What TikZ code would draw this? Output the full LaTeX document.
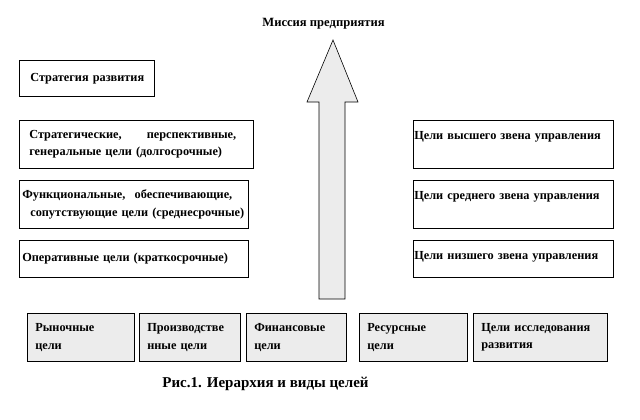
\documentclass[tikz,border=0pt]{standalone}
\usepackage{fontspec}
\setmainfont{Liberation Serif}
\usetikzlibrary{positioning}

\tikzset{
  goal/.style={draw=black, line width=0.6pt, fill=white, anchor=north west,
    inner xsep=3pt, inner ysep=3pt, align=left,
    font=\bfseries\fontsize{12.3}{17.5}\selectfont},
  levelbox/.style={goal, inner xsep=1pt},
  kindbox/.style={goal, fill=gray!15, inner xsep=8pt},
}

\begin{document}
\begin{tikzpicture}[x=1pt, y=-1pt]
	\useasboundingbox (0,0) rectangle (640,420);
	
	% Mission and the big arrow
	\node[font=\bfseries\fontsize{12.6}{14}\selectfont] (mission) at (323.5,24) {Миссия предприятия};
	\draw[line width=0.6pt, fill=gray!15] (333,40) -- (358,102) -- (345,102) -- (345,299)
		-- (319,299) -- (319,102) -- (307,102) -- cycle;
	
	% --- Left column: goals by horizon ---
	\node[goal, text width=129pt, minimum height=36pt] (strategy) at (19,60)
		{\hspace*{8pt}Стратегия развития};
	\node[goal, text width=228pt, minimum height=48pt] (longterm) at (19,120)
		{\hspace*{7pt}\makebox[207pt][l]{Стратегические,\hfill перспективные,}\\
		 \hspace*{7pt}генеральные цели (долгосрочные)};
	\node[goal, text width=223pt, minimum height=48pt] (midterm) at (19,180)
		{\makebox[210pt][l]{Функциональные,\hfill обеспечивающие,}\\
		 \hspace*{8pt}сопутствующие цели (среднесрочные)};
	\node[goal, text width=223pt, minimum height=37pt] (shortterm) at (19,240)
		{Оперативные цели (краткосрочные)};
	
	% --- Right column: goals by management level ---
	\node[levelbox, text width=198pt, text height=16pt, text depth=26pt] (top) at (413,120)
		{Цели высшего звена управления};
	\node[levelbox, text width=198pt, text height=16pt, text depth=26pt] (middle) at (413,180)
		{Цели среднего звена управления};
	\node[levelbox, text width=198pt, text height=16pt, text depth=15pt] (lower) at (413,240)
		{Цели низшего звена управления};
	
	% --- Bottom row: kinds of goals ---
	\node[kindbox, text width=91pt, minimum height=48pt] (market) at (27,313)
		{Рыночные\\цели};
	\node[kindbox, text width=85pt, minimum height=48pt] (production) at (139,313)
		{Производстве\\нные цели};
	\node[kindbox, text width=84pt, minimum height=48pt] (finance) at (246,313)
		{Финансовые\\цели};
	\node[kindbox, text width=92pt, minimum height=48pt] (resource) at (359,313)
		{Ресурсные\\цели};
	\node[kindbox, text width=118pt, minimum height=48pt] (research) at (473,313)
		{Цели исследования\\развития};
	
	% Caption
	\node[font=\bfseries\fontsize{15}{17}\selectfont] (caption) at (265.5,384)
		{Рис.1. Иерархия и виды целей};
	
\end{tikzpicture}
\end{document}
